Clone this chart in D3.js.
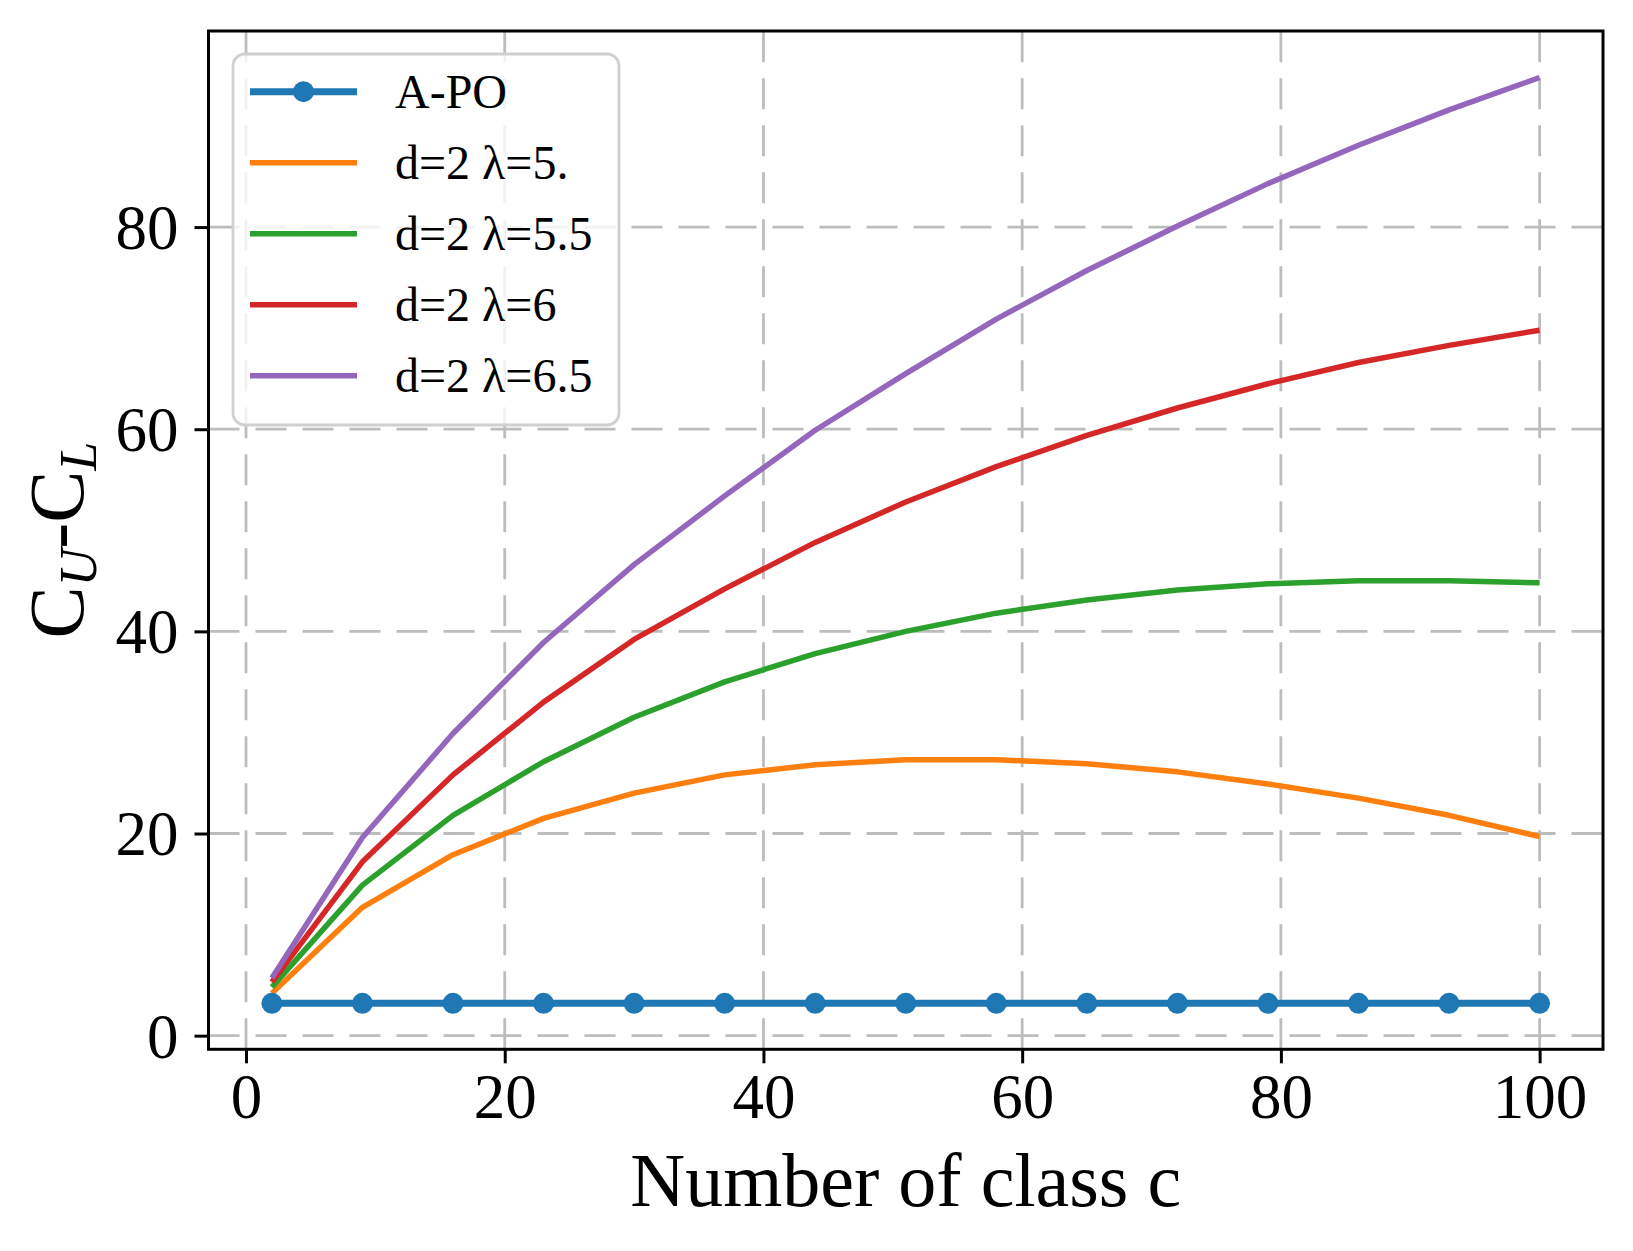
<!DOCTYPE html>
<html>
<head>
<meta charset="utf-8">
<script src="https://cdn.jsdelivr.net/npm/d3@7"></script>
<style>
  body { margin: 0; background: #fff; }
  text { font-family: "Liberation Serif", "Times New Roman", serif; fill: #000; }
</style>
</head>
<body>
<div id="chart"></div>
<script>
// number of classes c
var classes = [2, 9, 16, 23, 30, 37, 44, 51, 58, 65, 72, 79, 86, 93, 100];

// C_U - C_L for each setting
var apo   = [3.2, 3.2, 3.2, 3.2, 3.2, 3.2, 3.2, 3.2, 3.2, 3.2, 3.2, 3.2, 3.2, 3.2, 3.2];
var lam50 = [4.2, 12.7, 17.9, 21.5, 24.0, 25.8, 26.8, 27.3, 27.3, 26.9, 26.1, 24.9, 23.5, 21.8, 19.7];
var lam55 = [4.8, 14.9, 21.8, 27.1, 31.5, 35.0, 37.8, 40.0, 41.8, 43.1, 44.1, 44.7, 45.0, 45.0, 44.8];
var lam60 = [5.3, 17.2, 25.8, 33.0, 39.2, 44.2, 48.8, 52.8, 56.3, 59.4, 62.1, 64.5, 66.6, 68.3, 69.8];
var lam65 = [5.7, 19.6, 29.9, 38.9, 46.6, 53.4, 59.9, 65.5, 70.9, 75.7, 80.1, 84.3, 88.1, 91.6, 94.8];

var seriesNames = ["A-PO", "d=2 \u03bb=5.", "d=2 \u03bb=5.5", "d=2 \u03bb=6", "d=2 \u03bb=6.5"];
var colors = ["#1f77b4", "#ff7f0e", "#2ca02c", "#d62728", "#9467bd"];

var xTicks = [0, 20, 40, 60, 80, 100];
var yTicks = [0, 20, 40, 60, 80];

var width = 1633, height = 1251;
var plotL = 208.5, plotR = 1603, plotT = 31, plotB = 1049.3;

var svg = d3.select('#chart').append('svg')
  .attr('width', width).attr('height', height);

var x = d3.scaleLinear().domain([-2.9, 104.9]).range([plotL, plotR]);
var y = d3.scaleLinear().domain([-1.35, 99.4]).range([plotB, plotT]);

// grid
var grid = svg.append('g')
  .attr('stroke', '#bdbdbd').attr('stroke-width', 2.8)
  .attr('stroke-dasharray', '31,16');
grid.selectAll('.gx').data(xTicks).enter().append('line')
  .attr('x1', function (d) { return x(d); }).attr('x2', function (d) { return x(d); })
  .attr('y1', plotB).attr('y2', plotT);
grid.selectAll('.gy').data(yTicks).enter().append('line')
  .attr('y1', function (d) { return y(d); }).attr('y2', function (d) { return y(d); })
  .attr('x1', plotL).attr('x2', plotR);

// lines
var all = [apo, lam50, lam55, lam60, lam65];
var line = d3.line()
  .x(function (d, i) { return x(classes[i]); })
  .y(function (d) { return y(d); });

all.forEach(function (vals, k) {
  svg.append('path')
    .datum(vals)
    .attr('d', line)
    .attr('fill', 'none')
    .attr('stroke', colors[k])
    .attr('stroke-width', k === 0 ? 7 : 5.5)
    .attr('stroke-linejoin', 'round');
});
svg.selectAll('.dot').data(apo).enter().append('circle')
  .attr('cx', function (d, i) { return x(classes[i]); })
  .attr('cy', function (d) { return y(d); })
  .attr('r', 10.5)
  .attr('fill', colors[0]);

// axes
var xAxis = d3.axisBottom(x).tickValues(xTicks).tickSize(14).tickPadding(10);
var yAxis = d3.axisLeft(y).tickValues(yTicks).tickSize(14).tickPadding(16);

var gx = svg.append('g').attr('transform', 'translate(0,' + plotB + ')').call(xAxis);
var gy = svg.append('g').attr('transform', 'translate(' + plotL + ',0)').call(yAxis);
[gx, gy].forEach(function (g) {
  g.select('.domain').remove();
  g.selectAll('line').attr('stroke', '#000').attr('stroke-width', 3);
  g.selectAll('text').style('font-family', '"Liberation Serif", serif')
    .style('font-size', '63px').attr('fill', '#000');
});
gy.selectAll('text').attr('dy', '0.34em');

svg.append('rect')
  .attr('x', plotL).attr('y', plotT)
  .attr('width', plotR - plotL).attr('height', plotB - plotT)
  .attr('fill', 'none').attr('stroke', '#000').attr('stroke-width', 3);

// axis labels
svg.append('text')
  .attr('x', (plotL + plotR) / 2).attr('y', 1206)
  .attr('text-anchor', 'middle')
  .style('font-size', '76px')
  .text('Number of class c');

var yl = svg.append('text')
  .attr('transform', 'translate(83,' + ((plotT + plotB) / 2) + ') rotate(-90)')
  .attr('text-anchor', 'middle')
  .style('font-size', '78px');
yl.append('tspan').text('C');
yl.append('tspan').attr('dy', 13).style('font-size', '52px').style('font-style', 'italic').text('U');
yl.append('tspan').attr('dy', -13).text('-C');
yl.append('tspan').attr('dy', 13).style('font-size', '52px').style('font-style', 'italic').text('L');

// legend
var lg = svg.append('g');
lg.append('rect')
  .attr('x', 233).attr('y', 54).attr('width', 386).attr('height', 371)
  .attr('rx', 12).attr('ry', 12)
  .attr('fill', '#fff').attr('fill-opacity', 0.8)
  .attr('stroke', '#d0d0d0').attr('stroke-width', 2.8);

seriesNames.forEach(function (name, k) {
  var cy = 91.7 + k * 71;
  lg.append('line')
    .attr('x1', 250).attr('x2', 357).attr('y1', cy).attr('y2', cy)
    .attr('stroke', colors[k]).attr('stroke-width', k === 0 ? 7 : 5.5);
  if (k === 0) {
    lg.append('circle').attr('cx', 303.5).attr('cy', cy).attr('r', 10.5).attr('fill', colors[0]);
  }
  lg.append('text')
    .attr('x', 395).attr('y', cy + 16)
    .style('font-size', '48px')
    .text(name);
});
</script>
</body>
</html>
